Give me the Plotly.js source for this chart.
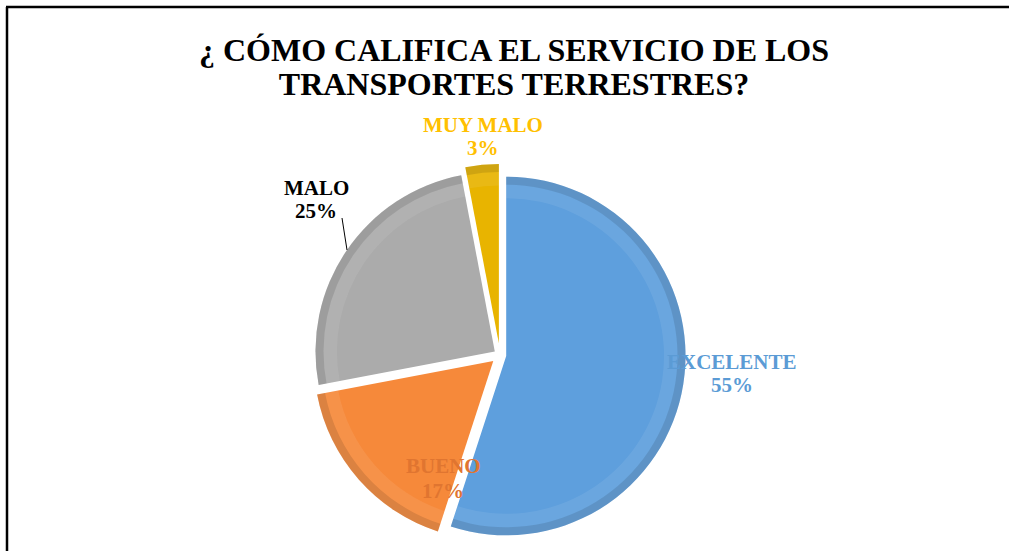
<!DOCTYPE html>
<html>
<head>
<meta charset="utf-8">
<script src="https://cdn.plot.ly/plotly-3.0.1.min.js"></script>
<style>
html,body{margin:0;padding:0;background:#fff;}
#chart{width:1009px;height:551px;}
</style>
</head>
<body>
<div id="chart"></div>
<script>
// ---- data ----
var categories = ['EXCELENTE', 'BUENO', 'MALO', 'MUY MALO'];
var percents = [55, 17, 25, 3];
var sliceColors = ['#5E9FDD', '#F6893A', '#ABABAB', '#E8B400'];
var labelColors = ['#5B9BD5', '#E07530', '#000000', '#FFC000'];
var titleText = '¿ CÓMO CALIFICA EL SERVICIO DE LOS<br>TRANSPORTES TERRESTRES?';

// ---- style / layout ----
var W = 1009, H = 551;
function px(x){ return x / W; }
function py(y){ return 1 - y / H; }
var pulls = [0.035, 0.05, 0.035, 0.065];
var domain = {x: [px(309), px(691)], y: [py(546), py(164)]};
var labelPos = [[732, 362, 385], [443, 466, 491], [316, 188, 211], [483, 125, 148]];
var serif = "Liberation Serif";

function pieLayer(colors, hole, hover){
  return {
    type: 'pie', values: percents, labels: categories, sort: false,
    direction: 'clockwise', rotation: 0, pull: pulls, domain: domain, hole: hole,
    marker: {colors: colors, line: {width: 0}},
    textinfo: 'none', hoverinfo: hover, showlegend: false
  };
}
var pie = pieLayer(sliceColors, 0, 'label+percent');
var bevel = pieLayer(categories.map(function(){ return 'rgba(255,255,255,0.08)'; }), 0.88, 'skip');
var rim = pieLayer(categories.map(function(){ return 'rgba(0,0,0,0.11)'; }), 0.955, 'skip');

var annotations = [];
categories.forEach(function(c, i){
  var p = labelPos[i];
  var f = {family: serif, size: 21, color: labelColors[i], weight: 'bold'};
  annotations.push({xref: 'paper', yref: 'paper', x: px(p[0]), y: py(p[1]), xanchor: 'center', yanchor: 'middle',
    text: '<b>' + c + '</b>', showarrow: false, font: f});
  annotations.push({xref: 'paper', yref: 'paper', x: px(p[0]), y: py(p[2]), xanchor: 'center', yanchor: 'middle',
    text: '<b>' + percents[i] + '%</b>', showarrow: false, font: f});
});

var layout = {
  width: W, height: H,
  margin: {l: 0, r: 0, t: 0, b: 0},
  paper_bgcolor: '#fff',
  font: {family: serif},
  title: {
    text: '<b>' + titleText + '</b>',
    font: {family: serif, size: 32, color: '#000'},
    x: px(514), xanchor: 'center',
    y: py(61), yanchor: 'top', yref: 'container'
  },
  annotations: annotations,
  shapes: [
    {type: 'line', xref: 'paper', yref: 'paper', x0: px(7), x1: px(7), y0: py(7), y1: py(560), line: {color: '#000', width: 2.5}},
    {type: 'line', xref: 'paper', yref: 'paper', x0: px(6), x1: px(1015), y0: py(7), y1: py(7), line: {color: '#000', width: 2.5}},
    {type: 'line', xref: 'paper', yref: 'paper', x0: px(342), x1: px(347), y0: py(218), y1: py(250), line: {color: '#000', width: 1}}
  ]
};

function tightenTitle(){
  var lines = document.querySelectorAll('.gtitle tspan.line');
  for (var i = 1; i < lines.length; i++) lines[i].setAttribute('dy', '1.05em');
}
Plotly.newPlot('chart', [pie, bevel, rim], layout, {displayModeBar: false, staticPlot: true}).then(tightenTitle);
</script>
</body>
</html>
